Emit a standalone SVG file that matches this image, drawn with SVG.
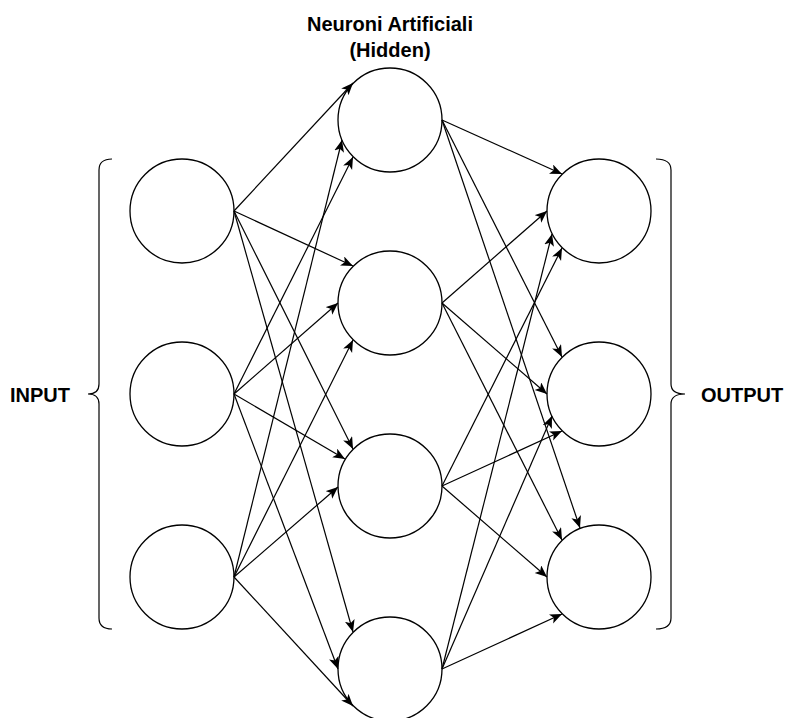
<svg xmlns="http://www.w3.org/2000/svg" width="788" height="718" viewBox="0 0 788 718">
<style>
.node{fill:#fff;stroke:#000;stroke-width:1.3}
.edge{fill:none;stroke:#000;stroke-width:1.2;marker-end:url(#arr)}
.brace{fill:none;stroke:#000;stroke-width:1.2}
.lbl{font-family:"Liberation Sans",Arial,sans-serif;font-weight:bold;font-size:20px;fill:#000}
</style>
<defs>
<marker id="arr" markerUnits="userSpaceOnUse" markerWidth="14" markerHeight="12" refX="12" refY="5" orient="auto">
<path d="M0,0 L12,5 L0,10 L3,5 Z" fill="#000"/>
</marker>
</defs>
<rect width="788" height="718" fill="#fff"/>
<g id="brace-input"><path class="brace" d="M112,159 Q99,159 99,170 L99,384 Q99,394 88,394 Q99,394 99,404 L99,618 Q99,629 112,629"/></g>
<g id="brace-output"><path class="brace" d="M656,159 Q671,159 671,170 L671,384 Q671,394 685,394 Q671,394 671,404 L671,618 Q671,629 656,629"/></g>
<g id="label-input"><text class="lbl" x="10" y="402">INPUT</text></g>
<g id="label-output"><text class="lbl" x="701" y="402">OUTPUT</text></g>
<g id="label-hidden"><text class="lbl" x="390" y="31" text-anchor="middle">Neuroni Artificiali</text><text class="lbl" x="390" y="57" text-anchor="middle">(Hidden)</text></g>
<g id="in1"><circle class="node" cx="182" cy="211" r="52"/></g>
<g id="in2"><circle class="node" cx="182" cy="394" r="52"/></g>
<g id="in3"><circle class="node" cx="182" cy="577" r="52"/></g>
<g id="h1"><circle class="node" cx="390" cy="120" r="52"/></g>
<g id="h2"><circle class="node" cx="390" cy="303" r="52"/></g>
<g id="h3"><circle class="node" cx="390" cy="486" r="52"/></g>
<g id="h4"><circle class="node" cx="390" cy="669" r="52"/></g>
<g id="out1"><circle class="node" cx="599" cy="211" r="52"/></g>
<g id="out2"><circle class="node" cx="599" cy="394" r="52"/></g>
<g id="out3"><circle class="node" cx="599" cy="577" r="52"/></g>
<g id="connectors">
<path class="edge" d="M234,211 L353,83"/>
<path class="edge" d="M234,211 L353,266"/>
<path class="edge" d="M234,211 L353,449"/>
<path class="edge" d="M234,211 L353,632"/>
<path class="edge" d="M234,394 L353,157"/>
<path class="edge" d="M234,394 L338,303"/>
<path class="edge" d="M234,394 L345,459"/>
<path class="edge" d="M234,394 L338,669"/>
<path class="edge" d="M234,577 L342,140"/>
<path class="edge" d="M234,577 L353,340"/>
<path class="edge" d="M234,577 L338,487"/>
<path class="edge" d="M234,577 L353,706"/>
<path class="edge" d="M442,120 L562,174"/>
<path class="edge" d="M442,120 L562,357"/>
<path class="edge" d="M442,120 L580,528"/>
<path class="edge" d="M442,303 L547,211"/>
<path class="edge" d="M442,303 L547,394"/>
<path class="edge" d="M442,303 L562,540"/>
<path class="edge" d="M442,486 L562,248"/>
<path class="edge" d="M442,486 L562,431"/>
<path class="edge" d="M442,486 L547,577"/>
<path class="edge" d="M442,669 L552,234"/>
<path class="edge" d="M442,669 L552,416"/>
<path class="edge" d="M442,669 L562,614"/>
</g>
</svg>
